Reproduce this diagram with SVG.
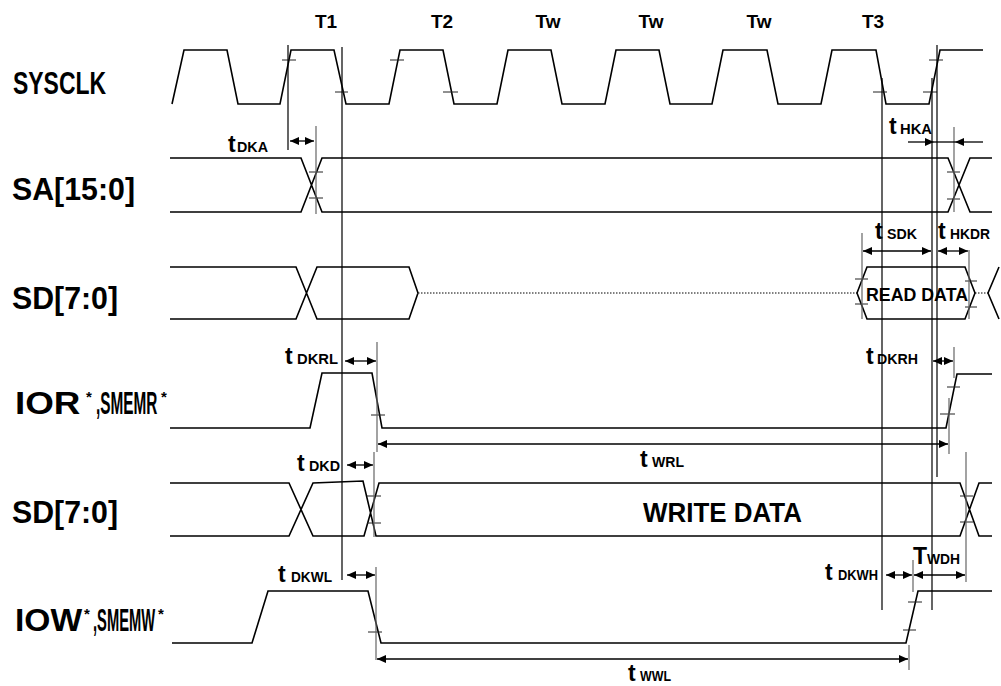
<svg xmlns="http://www.w3.org/2000/svg" width="1001" height="686" viewBox="0 0 1001 686">
<style>
.sig{fill:none;stroke:#000;stroke-width:1.6;stroke-linejoin:miter}
.tick{stroke:#222;stroke-width:1}
.ref{stroke:#000;stroke-width:1.2}
.ref2{stroke:#666;stroke-width:1.2}
.dim{stroke:#000;stroke-width:1.3;fill:none}
.dot{stroke:#000;stroke-width:1;stroke-dasharray:1.5 1.5;fill:none}
.lbl{font-family:"Liberation Sans",Arial,sans-serif;font-weight:bold;font-size:32px;fill:#000}
.ast{font-family:"Liberation Sans",Arial,sans-serif;font-weight:bold;font-size:15px;fill:#000}
.clk{font-family:"Liberation Sans",Arial,sans-serif;font-weight:bold;font-size:19px;fill:#000}
.tb{font-family:"Liberation Sans",Arial,sans-serif;font-weight:bold;font-size:23px;fill:#000}
.ts{font-family:"Liberation Sans",Arial,sans-serif;font-weight:bold;font-size:14px;fill:#000}
.data{font-family:"Liberation Sans",Arial,sans-serif;font-weight:bold;font-size:27px;fill:#000}
.rd{font-family:"Liberation Sans",Arial,sans-serif;font-weight:bold;font-size:18px;fill:#000}
</style>
<defs>
<marker id="ah" markerUnits="userSpaceOnUse" markerWidth="10" markerHeight="10" refX="9" refY="4" orient="auto-start-reverse">
<path d="M0,0 L9,4 L0,8 Z" fill="#000"/>
</marker>
</defs>
<rect width="1001" height="686" fill="#fff"/>

<g id="cycle-labels">
<text class="clk" x="326" y="28" text-anchor="middle">T1</text>
<text class="clk" x="442" y="28" text-anchor="middle">T2</text>
<text class="clk" x="548" y="28" text-anchor="middle">Tw</text>
<text class="clk" x="651" y="28" text-anchor="middle">Tw</text>
<text class="clk" x="759" y="28" text-anchor="middle">Tw</text>
<text class="clk" x="873" y="28" text-anchor="middle">T3</text>
</g>

<g id="sysclk">
<text class="lbl" x="13" y="94" textLength="93" lengthAdjust="spacingAndGlyphs">SYSCLK</text>
<path class="sig" d="M172,104 L184,50 L227,50 L238,104 L280,104 L291,50 L334,50 L346,104 L389,104 L400,50 L443,50 L454,104 L497,104 L508,50 L551,50 L562,104 L605,104 L616,50 L659,50 L670,104 L712,104 L723,50 L767,50 L778,104 L821,104 L832,50 L876,50 L886,104 L929,104 L940,50 L983,50"/>
<path class="tick" d="M282,60 H296 M335,92 H348 M390,60 H404 M443,92 H458 M873,92 H887 M923,92 H937 M929,60 H943"/>
</g>

<g id="sa">
<text class="lbl" x="12" y="200" textLength="123" lengthAdjust="spacingAndGlyphs">SA[15:0]</text>
<path class="sig" d="M170,158 H301 L322,212 H948 L970,158 H992 M170,212 H301 L322,158 H948 L970,212 H992"/>
<path class="tick" d="M309,172 H323 M309,198 H323 M947,172 H960 M947,199 H960"/>
</g>

<g id="sd-read">
<text class="lbl" x="12" y="309" textLength="106" lengthAdjust="spacingAndGlyphs">SD[7:0]</text>
<path class="sig" d="M170,267 H296 L317,319 H409 L418,293 M170,319 H296 L317,267 H409 L418,293"/>
<path class="dot" d="M418,293 H857 M975,293 H988"/>
<path class="sig" d="M857,293 L867,267 H965 L975,293 L965,319 H867 Z M999,267 L988,293 L999,319"/>
<text class="rd" x="866" y="301" textLength="102" lengthAdjust="spacingAndGlyphs">READ  DATA</text>
<path class="tick" d="M855,279 H868 M855,304 H868 M965,281 H977 M965,307 H977"/>
</g>

<g id="ior">
<text class="lbl" transform="translate(15,414) scale(1.15,1)">IOR</text>
<text class="ast" x="86" y="402">*</text>
<text class="lbl" transform="translate(96,414) scale(0.48,1)">,SMEMR</text>
<text class="ast" x="161" y="402">*</text>
<path class="sig" d="M170,428 H310 L322,373 H372 L382,428 H946 L957,374 H992"/>
<path class="tick" d="M371,415 H385 M947,387 H960 M940,414 H955"/>
</g>

<g id="sd-write">
<text class="lbl" x="12" y="523" textLength="106" lengthAdjust="spacingAndGlyphs">SD[7:0]</text>
<path class="sig" d="M170,483 H289 L313,536 H364 L379,483 H960 L979,536 H992 M170,536 H289 L313,483 L363,481 L376,536 H960 L979,483 H992"/>
<text class="data" x="643" y="522" textLength="159" lengthAdjust="spacingAndGlyphs">WRITE DATA</text>
<path class="tick" d="M367,496 H381 M367,523 H381 M960,496 H973 M960,522 H973"/>
</g>

<g id="iow">
<text class="lbl" transform="translate(15,631) scale(1.05,1)">IOW</text>
<text class="ast" x="84" y="619">*</text>
<text class="lbl" transform="translate(93,631) scale(0.46,1)">,SMEMW</text>
<text class="ast" x="158" y="619">*</text>
<path class="sig" d="M172,643 H252 L268,591 H368 L381,643 L906,643 L918,591 H992"/>
<path class="tick" d="M368,632 H382 M908,602 H922 M903,630 H916"/>
</g>

<g id="connectors">
<path class="ref" d="M288,45 V150 M342,47 V580 M882,78 V610 M932,78 V610 M937,45 V477"/>
<path class="ref2" d="M316,126 V214 M954,127 V212 M862,233 V319 M969,250 V319 M377,342 V452 M954,347 V378 M949,398 V454 M374,452 V537 M966,452 V582 M376,567 V660 M913,560 V592 M909,645 V670"/>
<line class="dim" x1="290" y1="141" x2="314" y2="141" marker-start="url(#ah)" marker-end="url(#ah)"/>
<line class="dim" x1="908" y1="142" x2="934" y2="142" marker-end="url(#ah)"/>
<line class="dim" x1="983" y1="142" x2="955" y2="142" marker-end="url(#ah)"/>
<line class="dim" x1="934" y1="142" x2="955" y2="142"/>
<line class="dim" x1="863" y1="251" x2="931" y2="251" marker-start="url(#ah)" marker-end="url(#ah)"/>
<line class="dim" x1="938" y1="251" x2="968" y2="251" marker-start="url(#ah)" marker-end="url(#ah)"/>
<line class="dim" x1="345" y1="361" x2="376" y2="361" marker-start="url(#ah)" marker-end="url(#ah)"/>
<line class="dim" x1="933" y1="361" x2="953" y2="361" marker-start="url(#ah)" marker-end="url(#ah)"/>
<line class="dim" x1="378" y1="444" x2="948" y2="444" marker-start="url(#ah)" marker-end="url(#ah)"/>
<line class="dim" x1="347" y1="465" x2="373" y2="465" marker-start="url(#ah)" marker-end="url(#ah)"/>
<line class="dim" x1="347" y1="575" x2="375" y2="575" marker-start="url(#ah)" marker-end="url(#ah)"/>
<line class="dim" x1="886" y1="575" x2="912" y2="575" marker-start="url(#ah)" marker-end="url(#ah)"/>
<line class="dim" x1="914" y1="575" x2="965" y2="575" marker-start="url(#ah)" marker-end="url(#ah)"/>
<line class="dim" x1="377" y1="659" x2="908" y2="659" marker-start="url(#ah)" marker-end="url(#ah)"/>
</g>

<g id="timing-labels">
<text x="228" y="152"><tspan class="tb">t</tspan></text><text class="ts" x="237" y="152" textLength="31" lengthAdjust="spacingAndGlyphs">DKA</text>
<text x="889" y="134"><tspan class="tb">t</tspan></text><text class="ts" x="900" y="134" textLength="32" lengthAdjust="spacingAndGlyphs">HKA</text>
<text x="875" y="239"><tspan class="tb">t</tspan></text><text class="ts" x="887" y="239" textLength="30" lengthAdjust="spacingAndGlyphs">SDK</text>
<text x="938" y="239"><tspan class="tb">t</tspan></text><text class="ts" x="950" y="239" textLength="40" lengthAdjust="spacingAndGlyphs">HKDR</text>
<text x="285" y="364"><tspan class="tb">t</tspan></text><text class="ts" x="297" y="364" textLength="41" lengthAdjust="spacingAndGlyphs">DKRL</text>
<text x="866" y="364"><tspan class="tb">t</tspan></text><text class="ts" x="877" y="364" textLength="41" lengthAdjust="spacingAndGlyphs">DKRH</text>
<text x="640" y="467"><tspan class="tb">t</tspan></text><text class="ts" x="652" y="467" textLength="32" lengthAdjust="spacingAndGlyphs">WRL</text>
<text x="297" y="471"><tspan class="tb">t</tspan></text><text class="ts" x="309" y="471" textLength="31" lengthAdjust="spacingAndGlyphs">DKD</text>
<text x="278" y="582"><tspan class="tb">t</tspan></text><text class="ts" x="291" y="582" textLength="41" lengthAdjust="spacingAndGlyphs">DKWL</text>
<text x="825" y="580"><tspan class="tb">t</tspan></text><text class="ts" x="838" y="580" textLength="40" lengthAdjust="spacingAndGlyphs">DKWH</text>
<text x="913" y="564"><tspan class="tb">T</tspan></text><text class="ts" x="927" y="564" textLength="33" lengthAdjust="spacingAndGlyphs">WDH</text>
<text x="628" y="681"><tspan class="tb">t</tspan></text><text class="ts" x="640" y="681" textLength="31" lengthAdjust="spacingAndGlyphs">WWL</text>
</g>
</svg>
